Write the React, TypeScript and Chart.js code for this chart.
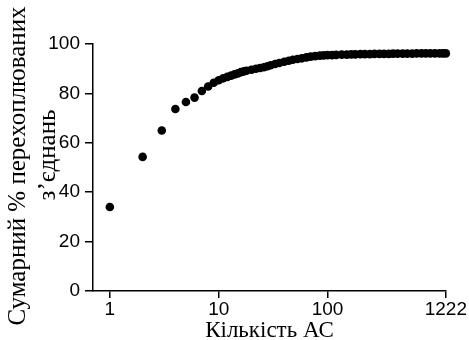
import React, { useEffect, useRef } from "react";
import { Chart, registerables } from "chart.js";

Chart.register(...registerables);

const asCounts = [
  1, 2, 3, 4, 5, 6, 7, 8, 9, 10, 11, 12, 13, 14, 15, 16, 17, 18, 20, 22, 24, 26, 28, 30, 33, 36, 40, 44, 48, 53, 58, 64, 70, 77, 85, 92, 100,
  110, 120, 135, 150, 165, 180, 200, 220, 245, 270, 300, 330, 365, 400, 440, 490, 540, 600, 660, 730, 800, 880, 970, 1070, 1150, 1222,
];
const cumulativePercent = [
  34, 54.3, 65, 73.7, 76.5, 78.3, 81, 82.8, 84.3, 85.3, 86.1, 86.7, 87.2, 87.7, 88.1, 88.6, 88.9, 89.2, 89.6, 90, 90.3, 90.6, 91, 91.4, 91.9, 92.3, 92.8, 93.2, 93.6, 93.9, 94.2, 94.6, 94.9, 95.1, 95.3, 95.4, 95.5,
  95.5, 95.6, 95.7, 95.7, 95.8, 95.8, 95.9, 95.9, 95.9, 96, 96, 96, 96, 96.1, 96.1, 96.1, 96.1, 96.1, 96.2, 96.2, 96.2, 96.2, 96.2, 96.2, 96.2, 96.2,
];
const xTickValues = [1, 10, 100, 1222];
const yTitleLines = ["Сумарний % перехоплюваних", "з’єднань"];
const xTitle = "Кількість АС";

const titlesPlugin = {
  id: "titles2",
  afterDraw(chart: any) {
    const ctx = chart.ctx;
    const area = chart.chartArea;
    const serif = "'Liberation Serif', 'Times New Roman', serif";
    ctx.save();
    ctx.fillStyle = "#000";
    ctx.font = "25px " + serif;
    ctx.textAlign = "center";
    ctx.textBaseline = "alphabetic";
    ctx.translate(25, 166);
    ctx.rotate(-Math.PI / 2);
    ctx.fillText(yTitleLines[0], 0, 0);
    ctx.restore();
    ctx.save();
    ctx.fillStyle = "#000";
    ctx.font = "25px " + serif;
    ctx.textAlign = "center";
    ctx.textBaseline = "alphabetic";
    ctx.translate(55, 155);
    ctx.rotate(-Math.PI / 2);
    ctx.fillText(yTitleLines[1], 0, 0);
    ctx.restore();
    ctx.save();
    ctx.fillStyle = "#000";
    ctx.font = "23px " + serif;
    ctx.textAlign = "center";
    ctx.textBaseline = "alphabetic";
    ctx.fillText(xTitle, (area.left + area.right) / 2, 337);
    ctx.restore();
  },
};

export default function App() {
  const ref = useRef<HTMLCanvasElement>(null);
  useEffect(() => {
    document.body.style.margin = "0";
    const data = asCounts.map((x, i) => ({ x, y: cumulativePercent[i] }));
    const tickFont = { family: "'Liberation Sans', Arial, sans-serif", size: 19, lineHeight: 1 };
    const chart = new Chart(ref.current!, {
      type: "scatter",
      data: {
        datasets: [
          {
            data,
            backgroundColor: "#000",
            borderColor: "#000",
            pointRadius: 4.3,
            pointBorderWidth: 0,
            showLine: false,
            clip: false as any,
          },
        ],
      },
      options: {
        animation: false,
        responsive: false,
        maintainAspectRatio: false,
        layout: { padding: { left: 0, right: 23, top: 44, bottom: 0 } },
        plugins: { legend: { display: false }, tooltip: { enabled: false } },
        scales: {
          x: {
            type: "logarithmic",
            min: 0.745,
            max: 1222,
            afterBuildTicks: (scale: any) => {
              scale.ticks = xTickValues.map((v) => ({ value: v }));
            },
            afterFit: (scale: any) => {
              scale.height = 49;
            },
            ticks: {
              color: "#000",
              font: tickFont,
              padding: 2,
              maxRotation: 0,
              autoSkip: false,
              callback: (v: any) => String(v),
            },
            grid: { drawOnChartArea: false, drawTicks: true, tickLength: 7, color: "#000", lineWidth: 1.5 },
            border: { display: true, color: "#000", width: 1.5 },
          },
          y: {
            min: 0,
            max: 100,
            afterFit: (scale: any) => {
              scale.width = 93;
            },
            ticks: { stepSize: 20, color: "#000", font: tickFont, padding: 5 },
            grid: { drawOnChartArea: false, drawTicks: true, tickLength: 8, color: "#000", lineWidth: 1.5 },
            border: { display: true, color: "#000", width: 1.5 },
          },
        },
      },
      plugins: [titlesPlugin],
    });
    return () => chart.destroy();
  }, []);
  return (
    <div style={{ position: "absolute", left: 0, top: 0, width: 469, height: 340, background: "#fff" }}>
      <canvas ref={ref} width={469} height={340} />
    </div>
  );
}
